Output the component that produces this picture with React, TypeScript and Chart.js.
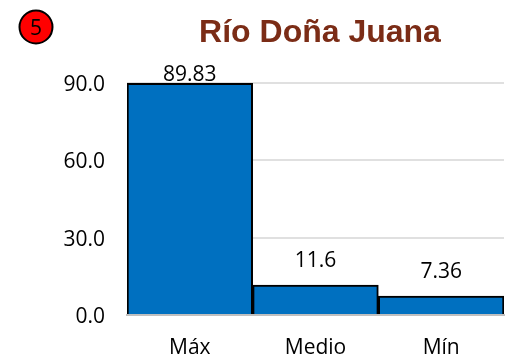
import React, { useEffect, useRef } from "react";
import { Chart, registerables, Plugin } from "chart.js";

Chart.register(...registerables);

const categories = ["Máx", "Medio", "Mín"];
const values = [89.83, 11.6, 7.36];
const valueLabels = ["89.83", "11.6", "7.36"];
const yTicks = [0, 30, 60, 90];
const title = "Río Doña Juana";
const badge = "5";

// Value captions above each bar, the heading and the numbered red badge.
const annotations: Plugin<"bar"> = {
  id: "annotations",
  afterDatasetsDraw(chart) {
    const { ctx } = chart;
    ctx.save();
    ctx.font = '21px "Open Sans", sans-serif';
    ctx.fillStyle = "#000";
    ctx.textAlign = "center";
    ctx.textBaseline = "alphabetic";
    chart.getDatasetMeta(0).data.forEach((bar, i) => {
      ctx.fillText(valueLabels[i], bar.x, bar.y - (i === 0 ? 2 : 18));
    });

    ctx.beginPath();
    ctx.arc(36, 27, 16.5, 0, Math.PI * 2);
    ctx.fillStyle = "#ff0000";
    ctx.fill();
    ctx.lineWidth = 2;
    ctx.strokeStyle = "#000";
    ctx.stroke();
    ctx.fillStyle = "#000";
    ctx.fillText(badge, 36, 35);

    ctx.font = 'bold 32px "Liberation Sans", sans-serif';
    ctx.fillStyle = "#7B2C16";
    ctx.fillText(title, 320, 42);
    ctx.restore();
  },
};

export default function App() {
  const ref = useRef<HTMLCanvasElement>(null);
  useEffect(() => {
    const chart = new Chart(ref.current!, {
      type: "bar",
      data: {
        labels: categories,
        datasets: [
          {
            data: values,
            backgroundColor: "#0070C0",
            borderColor: "#000",
            borderWidth: 2,
            barPercentage: 1,
            categoryPercentage: 1,
          },
        ],
      },
      options: {
        animation: false,
        responsive: false,
        layout: { padding: { left: 0, right: 22, top: 83, bottom: 0 } },
        plugins: {
          legend: { display: false },
          tooltip: { enabled: false },
        },
        scales: {
          x: {
            afterFit: (axis) => {
              axis.height = 45;
            },
            grid: { display: false },
            border: { color: "#BFBFBF", width: 2, z: 1 },
            ticks: {
              color: "#000",
              font: { family: '"Open Sans"', size: 21 },
              padding: 12,
            },
          },
          y: {
            min: 0,
            max: 90,
            afterBuildTicks: (axis) => {
              axis.ticks = yTicks.map((value) => ({ value }));
            },
            afterFit: (axis) => {
              axis.width = 127;
            },
            grid: { color: "#E0E0E0", lineWidth: 2, drawTicks: false },
            border: { display: false },
            ticks: {
              color: "#000",
              font: { family: '"Open Sans"', size: 21 },
              padding: 22,
              labelOffset: 2,
              callback: (v) => Number(v).toFixed(1),
            },
          },
        },
      },
      plugins: [annotations],
    });
    return () => chart.destroy();
  }, []);
  return <canvas ref={ref} width={526} height={360} style={{ position: "absolute", left: 0, top: 0 }} />;
}
